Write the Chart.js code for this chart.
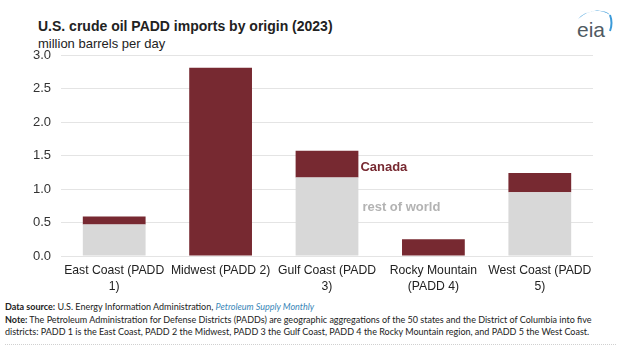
<!DOCTYPE html>
<html>
<head>
<meta charset="utf-8">
<script src="https://cdn.jsdelivr.net/npm/chart.js@4/dist/chart.umd.min.js"></script>
<style>
  html, body { margin: 0; padding: 0; background: #fff; }
  body { width: 624px; height: 351px; position: relative; overflow: hidden; font-family: "Liberation Sans", Arial, sans-serif; }
  #title { position: absolute; left: 38px; top: 18px; font-size: 14px; font-weight: bold; color: #222; white-space: nowrap; }
  #subtitle { position: absolute; left: 38px; top: 36px; font-size: 13px; color: #222; white-space: nowrap; }
  #wrap { position: absolute; left: 0; top: 0; width: 624px; height: 300px; }
  #footer { position: absolute; left: 5px; top: 301px; font-family: Lato, "Noto Sans", sans-serif; font-size: 9px; line-height: 12.5px; color: #222; white-space: nowrap; }
  #footer a { color: #3a87b8; font-style: italic; text-decoration: none; }
  #dots { position: absolute; left: 5px; right: 8px; top: 344px; border-top: 1px dotted #d0d0d0; }
  #logo { position: absolute; left: 572px; top: 7px; }
</style>
</head>
<body>
<div id="title">U.S. crude oil PADD imports by origin (2023)</div>
<div id="subtitle">million barrels per day</div>
<svg id="logo" width="44" height="34" viewBox="0 0 44 34">
  <path d="M6 12 Q22 -2 38 8 Q34 3 22 4 Q12 5 6 12 Z" fill="#3a9ad9"/>
  <path d="M38 8 Q41 16 38 24" stroke="#3a9ad9" stroke-width="2" fill="none"/>
  <text x="5" y="30" font-family="Liberation Sans, Arial" font-size="21" fill="#4f5a62">eia</text>
</svg>
<div id="wrap"><canvas id="chart"></canvas></div>
<div id="footer">
  <div><b>Data source:</b> U.S. Energy Information Administration, <a>Petroleum Supply Monthly</a></div>
  <div><b>Note:</b> The Petroleum Administration for Defense Districts (PADDs) are geographic aggregations of the 50 states and the District of Columbia into five</div>
  <div>districts: PADD 1 is the East Coast, PADD 2 the Midwest, PADD 3 the Gulf Coast, PADD 4 the Rocky Mountain region, and PADD 5 the West Coast.</div>
</div>
<div id="dots"></div>
<script>
const categories = [
  ['East Coast (PADD', '1)'],
  ['Midwest (PADD 2)'],
  ['Gulf Coast (PADD', '3)'],
  ['Rocky Mountain', '(PADD 4)'],
  ['West Coast (PADD', '5)']
];
const restOfWorld = [0.47, 0, 1.17, 0, 0.95];
const canada = [0.12, 2.81, 0.40, 0.25, 0.29];
const yTicks = [0, 0.5, 1, 1.5, 2, 2.5, 3];

const canadaColor = '#772931';
const restColor = '#d8d8d8';

// in-chart series labels next to the Gulf Coast bar
const seriesLabels = {
  id: 'seriesLabels',
  afterDatasetsDraw(chart) {
    const ctx = chart.ctx;
    const y = chart.scales.y;
    const bar = chart.getDatasetMeta(1).data[2];
    const x0 = bar.x + bar.width / 2 + 2;
    ctx.save();
    ctx.textBaseline = 'middle';
    ctx.textAlign = 'left';
    ctx.font = 'bold 13px "Liberation Sans", Arial, sans-serif';
    ctx.fillStyle = canadaColor;
    ctx.fillText('Canada', x0, y.getPixelForValue(1.32));
    ctx.fillStyle = '#b3b3b3';
    ctx.fillText('rest of world', x0 + 2, y.getPixelForValue(0.72));
    ctx.restore();
  }
};

new Chart(document.getElementById('chart'), {
  type: 'bar',
  data: {
    labels: categories,
    datasets: [
      { label: 'rest of world', data: restOfWorld, backgroundColor: restColor },
      { label: 'Canada', data: canada, backgroundColor: canadaColor }
    ]
  },
  options: {
    responsive: true,
    maintainAspectRatio: false,
    animation: false,
    layout: { padding: { top: 55, right: 31, left: 0, bottom: 0 } },
    datasets: { bar: { categoryPercentage: 1, barPercentage: 0.59 } },
    plugins: { legend: { display: false }, tooltip: { enabled: false } },
    scales: {
      x: {
        stacked: true,
        grid: { display: false },
        border: { display: false },
        ticks: {
          color: '#222',
          font: { family: '"Liberation Sans", Arial, sans-serif', size: 12.2, lineHeight: 1.35 },
          padding: -2,
          maxRotation: 0,
          autoSkip: false
        },
        afterFit(scale) { scale.height = 44; }
      },
      y: {
        stacked: true,
        min: 0,
        max: 3,
        grid: { color: '#e4e4e4', drawTicks: false },
        border: { display: false },
        afterBuildTicks(scale) { scale.ticks = yTicks.map(v => ({ value: v })); },
        ticks: {
          color: '#333',
          padding: 10,
          font: { family: '"Liberation Sans", Arial, sans-serif', size: 13 },
          callback: v => v.toFixed(1)
        },
        afterFit(scale) { scale.width = 61; }
      }
    }
  },
  plugins: [seriesLabels]
});
</script>
</body>
</html>
